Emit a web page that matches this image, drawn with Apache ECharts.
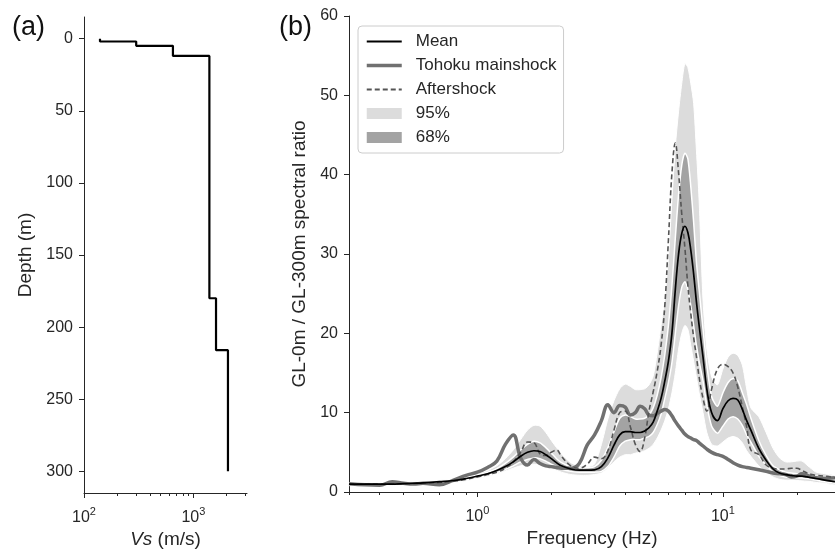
<!DOCTYPE html>
<html>
<head>
<meta charset="utf-8">
<script src="https://cdn.jsdelivr.net/npm/echarts@6/dist/echarts.min.js"></script>
<style>
  html, body { margin: 0; padding: 0; background: #fff; }
  #main { width: 835px; height: 552px; }
</style>
</head>
<body>
<div id="main"></div>
<script>
// (a) Vs profile: layer boundaries (m) and layer velocities (m/s)
const layerDepths = [0, 2, 5, 12, 180, 216, 300];
const layerVs = [140, 300, 650, 1400, 1610, 2070];

// (b) spectral ratio, sampled at these frequencies (Hz)
const freqs = [0.3, 0.35, 0.4, 0.45, 0.5, 0.55, 0.6, 0.7, 0.8, 0.9, 1.0,
  1.1, 1.2, 1.3, 1.4, 1.5, 1.6, 1.7, 1.8, 1.9,
  2.0, 2.1, 2.2, 2.4, 2.6, 2.8,
  3.0, 3.2, 3.4, 3.6, 3.8, 4.0, 4.2, 4.4, 4.6, 4.8,
  5.0, 5.2, 5.4, 5.6, 5.8, 6.0, 6.2, 6.4, 6.6, 6.8, 7.0, 7.2, 7.4, 7.6, 7.8,
  8.0, 8.3, 8.6, 9.0, 9.5,
  10, 10.5, 11, 11.5, 12, 12.5, 13,
  14, 15, 16, 17, 18, 19, 20, 21, 22, 23, 24,
  26, 28.6];

const meanRatio = [1.0, 1.0, 1.0, 1.0, 1.05, 1.1, 1.15, 1.3, 1.45, 1.7, 2.0,
  2.3, 2.7, 3.2, 3.8, 4.5, 5.0, 5.2, 5.1, 4.7,
  4.2, 3.7, 3.3, 2.9, 2.75, 2.75,
  2.8, 3.2, 4.3, 5.9, 7.2, 7.6, 7.6, 7.5, 7.5, 7.7,
  8.1, 8.8, 10.2, 11.8, 14.0, 16.5, 20.0, 25.5, 30.0, 32.6, 33.5, 32.7, 30.5, 27.5, 24.0,
  21.0, 17.0, 13.0, 10.0, 9.0,
  10.5, 11.5, 11.8, 11.6, 10.4, 9.0, 7.8,
  5.5, 4.0, 2.9, 2.4, 2.2, 2.1, 2.0, 2.0, 1.9, 1.8, 1.7,
  1.5, 1.3];

const tohoku = [1.05, 0.9, 0.85, 1.3, 1.1, 1.0, 1.1, 0.9, 1.5, 2.1, 2.5,
  3.1, 3.9, 6.0, 7.2, 4.3, 3.4, 4.1, 3.6, 3.3,
  3.2, 3.1, 3.0, 3.0, 3.6, 5.9,
  7.2, 9.0, 11.0, 10.0, 10.9, 10.7, 9.7, 10.0, 10.8, 10.5,
  9.7, 9.6, 9.9, 10.2, 10.4, 10.2, 9.6, 8.9, 8.3, 7.8, 7.3, 7.0, 6.8, 6.6, 6.5,
  6.2, 5.8, 5.4, 5.0, 4.7,
  4.5, 4.1, 3.7, 3.4, 3.2, 3.1, 3.0,
  2.8, 2.6, 2.4, 2.3, 2.2, 1.9, 2.0, 2.3, 2.1, 1.9, 1.8,
  1.7, 1.8];

const aftershock = [1.0, 1.0, 1.0, 1.0, 1.0, 1.05, 1.1, 1.2, 1.35, 1.6, 1.9,
  2.2, 2.5, 3.0, 3.8, 5.0, 6.3, 6.2, 4.8, 4.6,
  5.0, 5.3, 4.5, 3.3, 3.0, 3.5,
  4.4, 4.2, 5.2, 7.8, 10.0, 10.2, 8.2, 6.0, 5.1, 6.8,
  10.2, 12.6, 15.2, 18.5, 23.5, 31.8, 40.2, 44.0, 40.2, 35.0, 30.8, 26.0, 22.5, 19.5, 17.1,
  14.5, 11.8, 10.2, 13.0, 15.5,
  16.1, 15.8, 15.0, 13.2, 10.7, 8.2, 5.3,
  4.7, 3.4, 3.0, 2.9, 2.9, 3.0, 3.0, 2.7, 2.4, 2.2, 2.1,
  2.0, 1.8];

const hi68 = [1.1, 1.1, 1.1, 1.1, 1.15, 1.2, 1.25, 1.4, 1.6, 1.85, 2.15,
  2.5, 2.95, 3.6, 4.4, 5.3, 6.0, 6.4, 6.2, 5.6,
  4.9, 4.2, 3.7, 3.2, 3.05, 3.05,
  3.2, 4.0, 5.6, 7.6, 9.3, 9.7, 9.5, 9.2, 9.2, 9.3,
  9.7, 10.6, 12.2, 14.4, 17.3, 21.0, 26.0, 32.0, 37.5, 41.2, 42.7, 42.0, 38.5, 34.0, 29.0,
  25.5, 20.5, 16.0, 12.0, 10.8,
  12.5, 13.8, 14.3, 14.0, 12.5, 11.0, 9.3,
  6.5, 4.6, 3.3, 2.8, 2.5, 2.4, 2.3, 2.3, 2.2, 2.1, 2.0,
  1.8, 1.5];

const lo68 = [0.9, 0.9, 0.9, 0.9, 0.95, 1.0, 1.05, 1.2, 1.3, 1.55, 1.85,
  2.1, 2.45, 2.85, 3.3, 3.8, 4.1, 4.3, 4.2, 3.9,
  3.5, 3.2, 2.9, 2.6, 2.5, 2.5,
  2.5, 2.6, 3.2, 4.4, 5.8, 6.4, 6.6, 6.6, 6.6, 6.8,
  7.0, 7.5, 8.5, 9.8, 11.8, 13.8, 16.3, 20.0, 23.5, 25.8, 26.5, 25.5, 23.5, 21.0, 18.5,
  16.5, 14.0, 11.0, 8.3, 7.4,
  8.3, 9.2, 9.5, 9.2, 8.4, 7.2, 6.3,
  4.5, 3.4, 2.5, 2.1, 1.9, 1.85, 1.8, 1.75, 1.7, 1.6, 1.5,
  1.3, 1.1];

const hi95 = [1.2, 1.2, 1.2, 1.2, 1.25, 1.3, 1.35, 1.5, 1.7, 1.95, 2.3,
  2.7, 3.3, 4.2, 5.3, 6.6, 7.8, 8.4, 8.3, 7.5,
  6.5, 5.6, 4.8, 3.7, 3.3, 3.2,
  3.5, 6.0, 9.2, 11.5, 13.0, 13.6, 13.3, 12.9, 12.9, 13.0,
  13.5, 14.6, 17.5, 21.0, 24.5, 29.5, 36.8, 43.5, 48.0, 51.5, 54.0, 53.5, 51.5, 49.0, 43.1,
  36.8, 24.2, 18.0, 14.5, 13.5,
  15.5, 17.0, 17.5, 17.2, 16.0, 13.0, 10.6,
  9.5, 7.5, 5.5, 4.3, 3.8, 3.8, 3.9, 3.9, 3.4, 2.9, 2.5,
  2.3, 2.0];

const lo95 = [0.8, 0.8, 0.8, 0.8, 0.85, 0.9, 0.95, 1.1, 1.2, 1.4, 1.7,
  1.95, 2.3, 2.65, 3.0, 3.3, 3.4, 3.5, 3.4, 3.2,
  3.0, 2.75, 2.5, 2.2, 2.1, 2.1,
  2.2, 2.4, 3.0, 3.8, 4.4, 4.7, 4.7, 4.9, 5.0, 5.2,
  5.5, 6.0, 6.8, 7.8, 9.0, 10.5, 12.5, 15.0, 18.0, 20.0, 21.0, 20.5, 18.5, 16.5, 14.5,
  12.5, 10.0, 7.5, 6.0, 5.8,
  6.3, 6.8, 7.0, 6.8, 6.2, 5.2, 4.5,
  3.3, 2.5, 1.9, 1.6, 1.5, 1.5, 1.45, 1.4, 1.35, 1.3, 1.2,
  1.1, 0.9];

// tick positions
const depthTicks = [0, 50, 100, 150, 200, 250, 300];
const vsMinor = [200, 300, 400, 500, 600, 700, 800, 900, 2000, 3000];
const freqMinor = [0.3, 0.4, 0.5, 0.6, 0.7, 0.8, 0.9, 2, 3, 4, 5, 6, 7, 8, 9, 20];

const lg = Math.log10;
const ink = '#262626';
const font = '"Liberation Sans", Arial, Helvetica, sans-serif';

// step profile: every layer gives its top and bottom corner
const profile = [];
layerVs.forEach((v, i) => {
  profile.push([lg(v), layerDepths[i]]);
  profile.push([lg(v), layerDepths[i + 1]]);
});

const pairs = vals => freqs.map((f, i) => [lg(f), vals[i]]);

const powLabel = {
  formatter: v => '{b|10}{s|' + Math.round(v) + '}',
  rich: {
    b: { fontSize: 16, color: ink, fontFamily: font },
    s: { fontSize: 11, color: ink, fontFamily: font, padding: [0, 0, 12, 0] }
  }
};

function majorX(grid, min, max, ticks, name, gap) {
  return {
    type: 'value', gridIndex: grid, min: min, max: max,
    axisLine: { onZero: false, lineStyle: { color: ink, width: 1 } },
    axisTick: { customValues: ticks, length: 5, lineStyle: { color: ink } },
    axisLabel: Object.assign({ customValues: ticks, margin: 13 }, powLabel),
    splitLine: { show: false },
    name: name, nameLocation: 'middle', nameGap: gap,
    nameTextStyle: { fontSize: 19, color: ink, fontFamily: font,
      rich: { i: { fontSize: 19, fontStyle: 'italic', color: ink, fontFamily: font } } }
  };
}
function minorX(grid, min, max, ticks) {
  return {
    type: 'value', gridIndex: grid, min: min, max: max, position: 'bottom',
    axisLine: { show: false, onZero: false },
    axisTick: { customValues: ticks, length: 3, lineStyle: { color: ink } },
    axisLabel: { show: false },
    splitLine: { show: false }
  };
}

// filled band between two bounds, with thin white edges
function band(name, lo, hi, color, edge) {
  return {
    name: name, type: 'custom', xAxisIndex: 2, yAxisIndex: 1,
    silent: true, z: 1, clip: true,
    itemStyle: { color: color },
    data: pairs(lo),
    renderItem: (params, api) => {
      if (params.dataIndex !== 0) return;
      const top = freqs.map((f, i) => api.coord([lg(f), hi[i]]));
      const bot = freqs.map((f, i) => api.coord([lg(f), lo[i]]));
      return {
        type: 'group',
        children: [
          { type: 'polygon', shape: { points: top.concat(bot.slice().reverse()), smooth: 0.25 },
            style: { fill: color } },
          { type: 'polyline', shape: { points: top, smooth: 0.25 },
            style: { stroke: '#ffffff', lineWidth: edge, fill: null } },
          { type: 'polyline', shape: { points: bot, smooth: 0.25 },
            style: { stroke: '#ffffff', lineWidth: edge, fill: null } }
        ]
      };
    }
  };
}

const chart = echarts.init(document.getElementById('main'));
chart.setOption({
  animation: false,
  textStyle: { fontFamily: font },
  title: [
    { text: '(a)', left: 7, top: 9, textStyle: { fontSize: 27, fontWeight: 'normal', color: '#111', fontFamily: font } },
    { text: '(b)', left: 274, top: 9, textStyle: { fontSize: 27, fontWeight: 'normal', color: '#111', fontFamily: font } }
  ],
  grid: [
    { left: 84, top: 17, width: 163, height: 476, outerBoundsMode: 'none' },
    { left: 349, top: 16, right: 0, height: 476, outerBoundsMode: 'none' }
  ],
  legend: {
    data: [
      { name: 'Mean', itemStyle: { opacity: 0 } },
      { name: 'Tohoku mainshock', itemStyle: { opacity: 0 }, lineStyle: { width: 3.5 } },
      { name: 'Aftershock', itemStyle: { opacity: 0 } },
      { name: '95%', icon: 'rect', itemStyle: { color: '#dcdcdc', opacity: 1, borderWidth: 0 } },
      { name: '68%', icon: 'rect', itemStyle: { color: '#a3a3a3', opacity: 1, borderWidth: 0 } }
    ],
    orient: 'vertical', left: 358, top: 26,
    itemWidth: 35, itemHeight: 11, itemGap: 7,
    padding: [7, 7, 7, 7],
    backgroundColor: 'rgba(255,255,255,0.8)',
    borderColor: '#cccccc', borderWidth: 1, borderRadius: 4,
    selectedMode: false,
    textStyle: { fontSize: 17, color: ink, lineHeight: 17, padding: [0, 0, 0, 9], fontFamily: font }
  },
  xAxis: [
    majorX(0, 2, 3.49, [2, 3], '{i|Vs} (m/s)', 37),
    minorX(0, 2, 3.49, vsMinor.map(lg)),
    majorX(1, lg(0.3), 1.4566, [0, 1], 'Frequency (Hz)', 37),
    minorX(1, lg(0.3), 1.4566, freqMinor.map(lg))
  ],
  yAxis: [
    {
      type: 'value', gridIndex: 0, inverse: true, min: -15, max: 315,
      axisLine: { show: true, onZero: false, lineStyle: { color: ink, width: 1 } },
      axisTick: { show: true, customValues: depthTicks, length: 5, lineStyle: { color: ink } },
      axisLabel: { customValues: depthTicks, fontSize: 16, color: ink, margin: 11 },
      splitLine: { show: false },
      name: 'Depth (m)', nameLocation: 'middle', nameGap: 49,
      nameTextStyle: { fontSize: 19, color: ink }
    },
    {
      type: 'value', gridIndex: 1, min: 0, max: 60, interval: 10,
      axisLine: { show: true, onZero: false, lineStyle: { color: ink, width: 1 } },
      axisTick: { show: true, length: 5, lineStyle: { color: ink } },
      axisLabel: { fontSize: 16, color: ink, margin: 11 },
      splitLine: { show: false },
      name: 'GL-0m / GL-300m spectral ratio', nameLocation: 'middle', nameGap: 37,
      nameTextStyle: { fontSize: 19, color: ink }
    }
  ],
  series: [
    {
      name: 'Vs', type: 'line', xAxisIndex: 0, yAxisIndex: 0,
      data: profile, symbol: 'none',
      lineStyle: { color: '#000', width: 2.2 }
    },
    band('95%', lo95, hi95, '#dcdcdc', 1),
    band('68%', lo68, hi68, '#a3a3a3', 1.5),
    {
      name: 'Tohoku mainshock', type: 'line', xAxisIndex: 2, yAxisIndex: 1,
      data: pairs(tohoku), symbol: 'none', smooth: 0.4, z: 3,
      itemStyle: { color: '#707070' },
      lineStyle: { color: '#707070', width: 3.5 }
    },
    {
      name: 'Aftershock', type: 'line', xAxisIndex: 2, yAxisIndex: 1,
      data: pairs(aftershock), symbol: 'none', smooth: 0.4, z: 4,
      itemStyle: { color: '#555555' },
      lineStyle: { color: '#555555', width: 1.6, type: [5, 3] }
    },
    {
      name: 'Mean', type: 'line', xAxisIndex: 2, yAxisIndex: 1,
      data: pairs(meanRatio), symbol: 'none', smooth: 0.4, z: 5,
      itemStyle: { color: '#000' },
      lineStyle: { color: '#000', width: 1.7 }
    }
  ]
});
</script>
</body>
</html>
